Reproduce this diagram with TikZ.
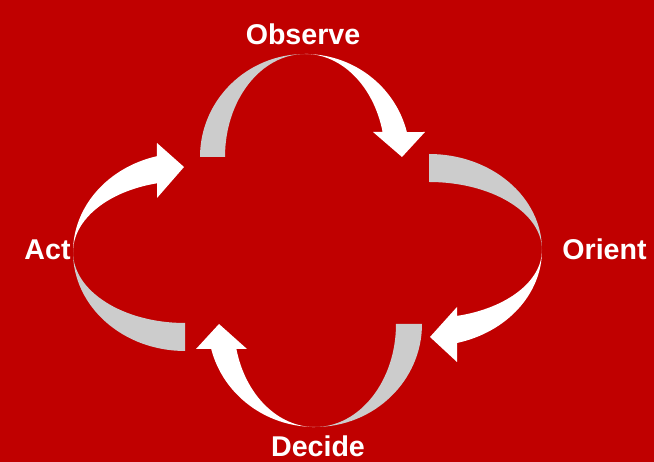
\documentclass[tikz,border=0pt]{standalone}
\usepackage{fontspec}
\setmainfont{Liberation Sans}
\usepackage{xcolor}
\usepackage{tikz}
\definecolor{bgred}{HTML}{C00000}
\definecolor{ribbongray}{HTML}{CCCCCC}
\tikzset{
	backside/.style={fill=ribbongray},
	frontside/.style={fill=white},
	steplabel/.style={text=white, font=\bfseries\fontsize{28.6}{34}\selectfont, inner sep=0pt, anchor=base}
}

\begin{document}
\begin{tikzpicture}[x=1pt,y=1pt]
\fill [bgred] (0,0) rectangle (654,462);
\useasboundingbox (0,0) rectangle (654,462);

% observe
\begin{scope}[shift={(305,305)}]
\fill [backside] (-105,0) arc[start angle=180,end angle=90,x radius=105pt,y radius=103pt]
	arc[start angle=90,end angle=180,x radius=80pt,y radius=103pt] -- cycle;
\fill [frontside] (0,103) arc[start angle=90,end angle=14,x radius=105pt,y radius=103pt]
	-- (120,25) -- (97,0) -- (68,25) -- (77.6,25)
	arc[start angle=14,end angle=90,x radius=80pt,y radius=103pt] -- cycle;
\end{scope}

% orient
\begin{scope}[shift={(429,212)}]
\fill [backside] (0,96) arc[start angle=90,end angle=0,x radius=113pt,y radius=96pt]
	arc[start angle=0,end angle=90,x radius=113pt,y radius=68pt] -- cycle;
\fill [frontside] (113,0) arc[start angle=0,end angle=-75.6,x radius=113pt,y radius=96pt]
	-- (28,-112) -- (1,-87) -- (28,-57) -- (28.1,-65.9)
	arc[start angle=-75.6,end angle=0,x radius=113pt,y radius=68pt] -- cycle;
\end{scope}

% decide
\begin{scope}[shift={(315,138)}]
\fill [backside] (107,0) arc[start angle=0,end angle=-90,x radius=107pt,y radius=103pt]
	arc[start angle=-90,end angle=0,x radius=81pt,y radius=103pt] -- cycle;
\fill [frontside] (0,-103) arc[start angle=-90,end angle=-166,x radius=107pt,y radius=103pt]
	-- (-119,-25) -- (-96,0) -- (-68,-25) -- (-78.6,-25)
	arc[start angle=-166,end angle=-90,x radius=81pt,y radius=103pt] -- cycle;
\end{scope}

% act
\begin{scope}[shift={(185,210)}]
\fill [backside] (0,-99) arc[start angle=270,end angle=180,x radius=112pt,y radius=99pt]
	arc[start angle=180,end angle=270,x radius=112pt,y radius=71pt] -- cycle;
\fill [frontside] (-112,0) arc[start angle=180,end angle=104.5,x radius=112pt,y radius=99pt]
	-- (-28,109) -- (-1,85) -- (-28,54) -- (-28,68.7)
	arc[start angle=104.5,end angle=180,x radius=112pt,y radius=71pt] -- cycle;
\end{scope}

\node [steplabel] (observe) at (303,417) {Observe};
\node [steplabel] (orient) at (604.5,202) {Orient};
\node [steplabel] (decide) at (318,5) {Decide};
\node [steplabel] (act) at (47.5,202) {Act};
\end{tikzpicture}
\end{document}
